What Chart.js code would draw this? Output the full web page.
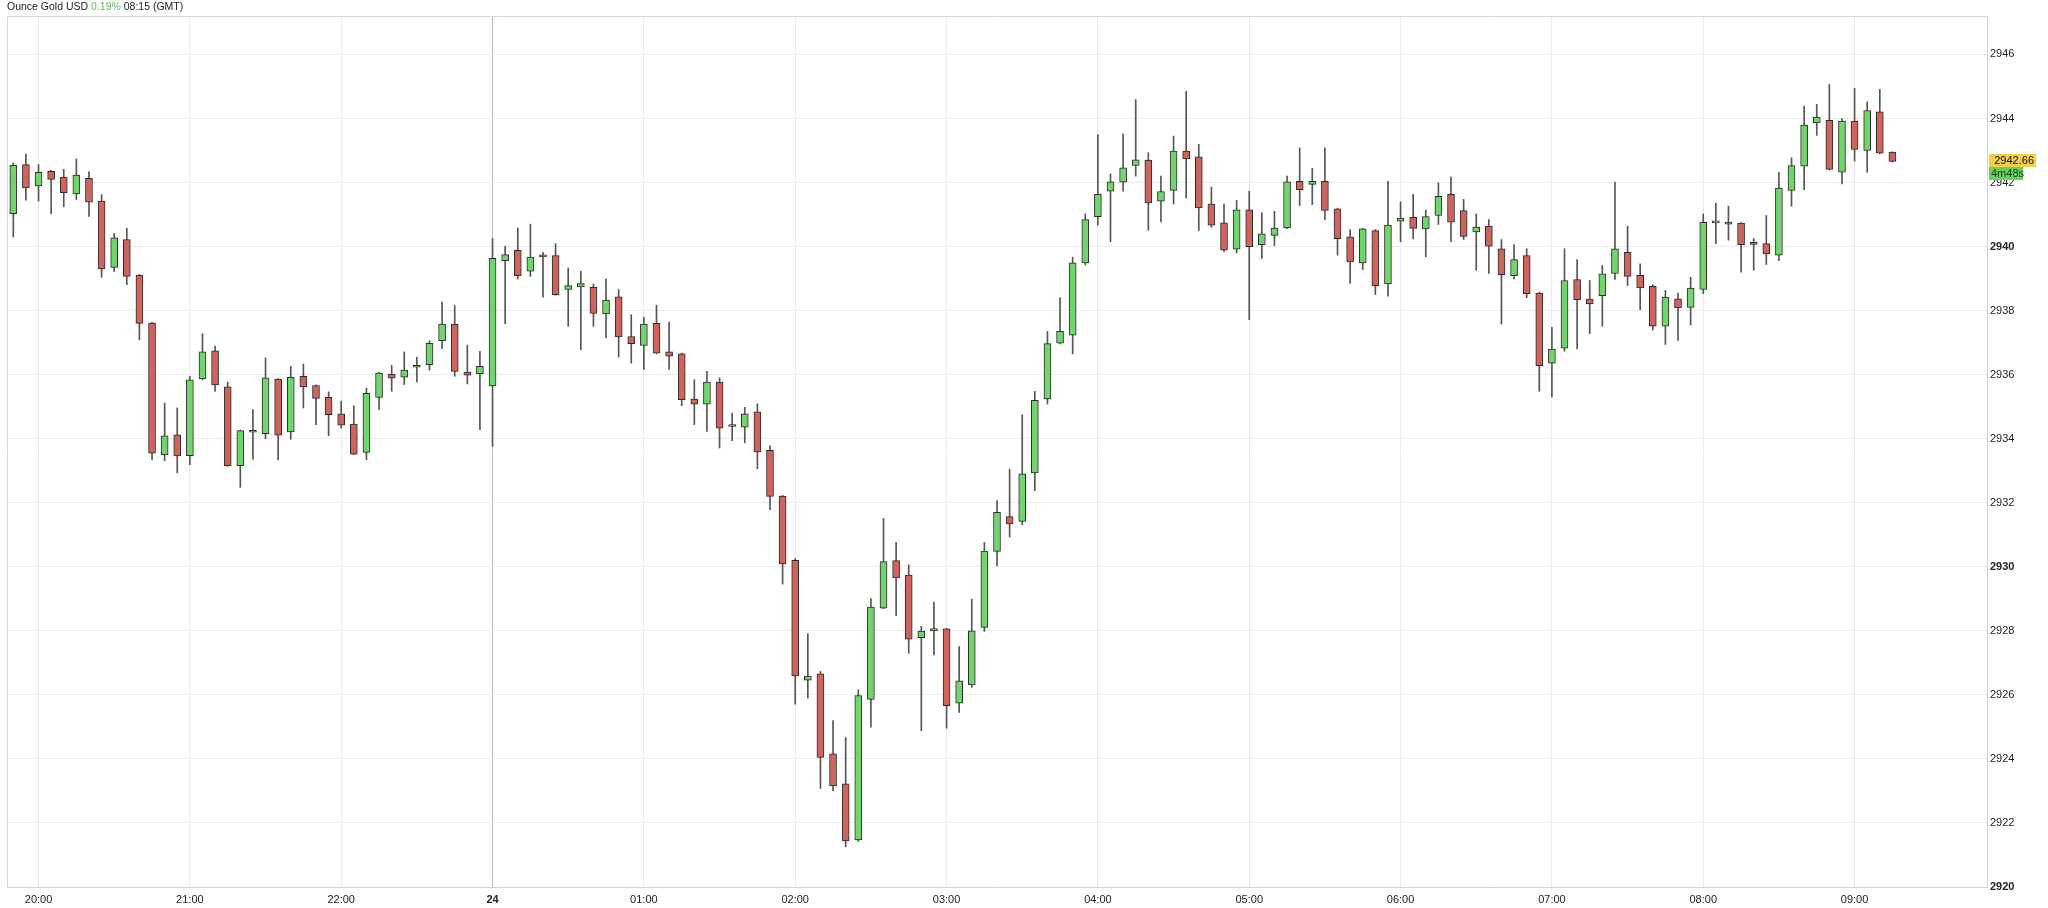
<!DOCTYPE html>
<html>
<head>
<meta charset="utf-8">
<script src="https://cdn.jsdelivr.net/npm/chart.js@4/dist/chart.umd.min.js"></script>
<style>
  html, body { margin: 0; padding: 0; background: #fff; }
  #wrap { position: relative; width: 2048px; height: 908px; }
  #title { position: absolute; left: 7px; top: 0; font: 10.5px Helvetica, Arial, "Liberation Sans", sans-serif; color: #222; line-height: 12px; white-space: nowrap; }
  #title .chg { color: #5cb85c; }
</style>
</head>
<body>
<div id="wrap">
  <canvas id="gold"></canvas>
  <div id="title">Ounce Gold USD <span class="chg">0.19%</span> 08:15 (GMT)</div>
</div>
<script>
// 5 minute candles, 23:00-23:55 is the daily break (no bars)
const times = [
  '19:50','19:55',
  '20:00','20:05','20:10','20:15','20:20','20:25','20:30','20:35','20:40','20:45','20:50','20:55',
  '21:00','21:05','21:10','21:15','21:20','21:25','21:30','21:35','21:40','21:45','21:50','21:55',
  '22:00','22:05','22:10','22:15','22:20','22:25','22:30','22:35','22:40','22:45','22:50','22:55',
  '00:00','00:05','00:10','00:15','00:20','00:25','00:30','00:35','00:40','00:45','00:50','00:55',
  '01:00','01:05','01:10','01:15','01:20','01:25','01:30','01:35','01:40','01:45','01:50','01:55',
  '02:00','02:05','02:10','02:15','02:20','02:25','02:30','02:35','02:40','02:45','02:50','02:55',
  '03:00','03:05','03:10','03:15','03:20','03:25','03:30','03:35','03:40','03:45','03:50','03:55',
  '04:00','04:05','04:10','04:15','04:20','04:25','04:30','04:35','04:40','04:45','04:50','04:55',
  '05:00','05:05','05:10','05:15','05:20','05:25','05:30','05:35','05:40','05:45','05:50','05:55',
  '06:00','06:05','06:10','06:15','06:20','06:25','06:30','06:35','06:40','06:45','06:50','06:55',
  '07:00','07:05','07:10','07:15','07:20','07:25','07:30','07:35','07:40','07:45','07:50','07:55',
  '08:00','08:05','08:10','08:15','08:20','08:25','08:30','08:35','08:40','08:45','08:50','08:55',
  '09:00','09:05','09:10','09:15','09:20','09:25','09:30','09:35','09:40','09:45','09:50'
];

const open = [
  2941.03,2942.56,2941.89,2942.35,2942.17,2941.64,2942.13,2941.42,2939.35,2940.22,
  2939.11,2937.61,2933.49,2934.12,2933.47,2935.87,2936.74,2935.62,2933.16,2934.20,
  2934.16,2935.86,2934.21,2935.95,2935.66,2935.29,2934.78,2934.46,2933.57,2935.29,
  2936.02,2935.92,2936.23,2936.31,2937.06,2937.58,2936.08,2936.03,2935.65,2939.56,
  2939.88,2939.23,2939.74,2939.72,2938.66,2938.74,2938.73,2937.90,2938.43,2937.19,
  2936.91,2937.60,2936.71,2936.65,2935.24,2935.08,2935.77,2934.38,2934.36,2934.84,
  2933.64,2932.21,2930.20,2926.46,2926.66,2924.16,2923.22,2921.47,2925.86,2928.71,
  2930.19,2929.74,2927.79,2928.00,2928.06,2925.74,2926.31,2928.11,2930.48,2931.57,
  2931.42,2932.93,2935.24,2936.98,2937.23,2939.49,2940.93,2941.73,2942.01,2942.53,
  2942.70,2941.42,2941.75,2942.98,2942.80,2941.33,2940.74,2939.92,2941.15,2940.06,
  2940.35,2940.58,2942.04,2941.94,2942.04,2941.18,2940.30,2939.49,2940.50,2938.83,
  2940.79,2940.91,2940.55,2940.97,2941.63,2941.12,2940.46,2940.64,2939.93,2939.09,
  2939.72,2938.55,2936.36,2936.83,2938.97,2938.36,2938.47,2939.16,2939.82,2939.10,
  2938.76,2937.51,2938.37,2938.10,2938.66,2940.74,2940.72,2940.73,2940.09,2940.09,
  2939.73,2941.75,2942.51,2943.86,2943.94,2942.32,2943.92,2943.00,2944.21,2942.95
];
const high = [
  2942.61,2942.89,2942.56,2942.38,2942.41,2942.74,2942.34,2941.62,2940.41,2940.57,
  2939.13,2937.63,2935.11,2934.96,2935.95,2937.28,2936.89,2935.77,2934.27,2934.91,
  2936.52,2935.88,2936.26,2936.33,2935.68,2935.46,2935.17,2935.03,2935.58,2936.07,
  2936.29,2936.71,2936.55,2937.06,2938.27,2938.16,2936.92,2936.73,2940.25,2940.01,
  2940.58,2940.70,2939.82,2940.09,2939.33,2939.23,2938.83,2938.99,2938.66,2937.87,
  2937.79,2938.17,2937.64,2936.67,2935.84,2936.10,2935.90,2934.80,2934.98,2935.09,
  2933.78,2932.23,2930.26,2927.91,2926.73,2925.20,2924.67,2926.16,2929.01,2931.51,
  2930.76,2930.06,2928.14,2928.90,2928.08,2927.51,2928.99,2930.76,2932.07,2933.05,
  2934.75,2935.48,2937.35,2938.40,2939.67,2941.02,2943.50,2942.27,2943.52,2944.59,
  2942.93,2942.20,2943.45,2944.85,2943.19,2941.86,2941.33,2941.44,2941.73,2941.05,
  2941.10,2942.20,2943.08,2942.44,2943.08,2941.20,2940.53,2940.57,2940.53,2942.04,
  2941.40,2941.63,2941.14,2941.99,2942.17,2941.47,2941.02,2940.84,2940.22,2940.06,
  2939.93,2938.57,2937.48,2939.93,2939.59,2938.94,2939.41,2942.01,2940.64,2939.46,
  2938.81,2938.63,2938.55,2939.04,2941.02,2941.36,2941.26,2940.75,2940.25,2940.97,
  2942.32,2942.77,2944.39,2944.44,2945.06,2944.00,2944.94,2944.52,2944.91,2942.96
];
const low = [
  2940.30,2941.45,2941.42,2941.03,2941.24,2941.47,2940.94,2939.04,2939.22,2938.81,
  2937.09,2933.34,2933.31,2932.93,2933.19,2935.84,2935.48,2933.14,2932.48,2933.36,
  2934.00,2933.34,2933.98,2934.96,2934.44,2934.09,2934.33,2933.50,2933.34,2934.91,
  2935.48,2935.69,2935.77,2936.14,2936.81,2935.95,2935.71,2934.28,2933.76,2937.59,
  2938.99,2939.07,2938.42,2938.48,2937.51,2936.78,2937.51,2937.15,2936.55,2936.36,
  2936.16,2936.65,2936.16,2935.03,2934.44,2934.23,2933.71,2933.94,2933.87,2933.06,
  2931.78,2929.46,2925.71,2925.90,2923.08,2923.01,2921.26,2921.42,2924.99,2928.69,
  2928.47,2927.30,2924.88,2927.25,2924.96,2925.45,2926.24,2927.98,2930.03,2930.93,
  2931.31,2932.38,2935.08,2936.96,2936.65,2939.42,2940.67,2940.15,2941.73,2942.20,
  2940.51,2940.77,2941.33,2941.52,2940.50,2940.60,2939.83,2939.80,2937.72,2939.63,
  2940.03,2940.56,2941.28,2941.31,2940.84,2939.73,2938.86,2939.28,2938.50,2938.45,
  2940.15,2940.24,2939.68,2940.69,2940.15,2940.22,2939.26,2939.16,2937.58,2938.99,
  2938.40,2935.48,2935.30,2936.73,2936.80,2937.28,2937.51,2938.97,2938.78,2938.03,
  2937.39,2936.94,2937.07,2937.55,2938.53,2940.09,2940.20,2939.20,2939.26,2939.44,
  2939.56,2941.26,2941.78,2943.47,2942.39,2941.96,2942.67,2942.32,2942.90,2942.64
];
const close = [
  2942.54,2941.83,2942.32,2942.10,2941.68,2942.23,2941.39,2939.30,2940.27,2939.07,
  2937.60,2933.55,2934.09,2933.46,2935.84,2936.71,2935.68,2933.16,2934.25,2934.22,
  2935.90,2934.11,2935.92,2935.62,2935.26,2934.75,2934.42,2933.52,2935.42,2936.05,
  2935.89,2936.14,2936.25,2936.98,2937.58,2936.10,2935.98,2936.26,2939.63,2939.75,
  2939.09,2939.67,2939.68,2938.50,2938.78,2938.84,2937.91,2938.33,2937.18,2936.97,
  2937.58,2936.67,2936.58,2935.22,2935.08,2935.77,2934.33,2934.40,2934.78,2933.59,
  2932.20,2930.09,2926.59,2926.59,2924.05,2923.16,2921.44,2925.98,2928.74,2930.16,
  2929.65,2927.74,2927.99,2928.07,2925.66,2926.44,2928.00,2930.49,2931.70,2931.34,
  2932.90,2935.20,2936.97,2937.35,2939.49,2940.84,2941.63,2942.02,2942.46,2942.71,
  2941.36,2941.72,2942.98,2942.74,2941.21,2940.67,2939.89,2941.15,2940.00,2940.40,
  2940.58,2942.02,2941.78,2942.04,2941.13,2940.25,2939.52,2940.55,2938.78,2940.67,
  2940.89,2940.57,2940.94,2941.57,2940.76,2940.32,2940.61,2940.01,2939.12,2939.59,
  2938.53,2936.28,2936.80,2938.94,2938.34,2938.21,2939.15,2939.93,2939.07,2938.71,
  2937.51,2938.42,2938.08,2938.70,2940.76,2940.76,2940.70,2940.06,2940.07,2939.77,
  2941.83,2942.53,2943.79,2944.04,2942.41,2943.92,2943.03,2944.25,2942.92,2942.66
];

const hourTicks = ['20:00','21:00','22:00','00:00','01:00','02:00','03:00','04:00','05:00','06:00','07:00','08:00','09:00'];
const dayTick = '00:00';
const dayLabel = '24';
const countdown = '4m48s';

const UP = '#72d46c', DOWN = '#cf635e', EDGE = '#2b2b2b', WICK = '#555';

Chart.defaults.font.family = 'Helvetica, Arial, "Liberation Sans", sans-serif';
Chart.defaults.font.size = 11;
Chart.defaults.color = '#222';

const frame = {
  id: 'frame',
  beforeDatasetsDraw(chart) {
    const { ctx, chartArea: a } = chart;
    ctx.save();
    ctx.strokeStyle = '#d6d6dc';
    ctx.lineWidth = 1;
    ctx.beginPath();
    ctx.moveTo(Math.round(a.left) + 0.5, a.bottom);
    ctx.lineTo(Math.round(a.left) + 0.5, Math.round(a.top) + 0.5);
    ctx.lineTo(a.right, Math.round(a.top) + 0.5);
    ctx.stroke();
    ctx.restore();
  }
};

const lastPrice = {
  id: 'lastPrice',
  afterDraw(chart) {
    const { ctx, chartArea: a } = chart;
    const last = close[close.length - 1];
    const y = Math.round(chart.scales.y.getPixelForValue(last));
    const x = Math.round(a.right) + 2;
    ctx.save();
    ctx.fillStyle = '#f3cf4a';
    ctx.fillRect(x, y - 7, 47, 13);
    ctx.fillStyle = '#6bcf5f';
    ctx.fillRect(x, y + 6, 34, 13);
    ctx.font = '11px Helvetica, Arial, "Liberation Sans", sans-serif';
    ctx.textBaseline = 'middle';
    ctx.fillStyle = '#111';
    ctx.textAlign = 'right';
    ctx.fillText(last.toFixed(2), x + 45, y - 0.5);
    ctx.textAlign = 'left';
    ctx.fillStyle = '#143d14';
    ctx.fillText(countdown, x + 2, y + 12.5);
    ctx.restore();
  }
};

new Chart(document.getElementById('gold'), {
  type: 'bar',
  data: {
    labels: times,
    datasets: [
      {
        label: 'body',
        data: open.map((o, i) => [o, close[i]]),
        backgroundColor: (c) => (close[c.dataIndex] >= open[c.dataIndex] ? UP : DOWN),
        borderColor: EDGE,
        borderWidth: 1,
        borderSkipped: false,
        barThickness: 7,
        minBarLength: 2,
        grouped: false
      },
      {
        label: 'wick',
        data: low.map((l, i) => [l, high[i]]),
        backgroundColor: WICK,
        borderWidth: 0,
        barThickness: 1,
        grouped: false
      }
    ]
  },
  options: {
    responsive: true,
    maintainAspectRatio: false,
    animation: false,
    layout: { padding: { left: 7, top: 16, right: 0, bottom: 0 } },
    plugins: { legend: { display: false }, tooltip: { enabled: false } },
    scales: {
      x: {
        type: 'category',
        offset: true,
        grid: {
          offset: false,
          drawTicks: false,
          color: (c) => {
            const t = times[c.index];
            if (!hourTicks.includes(t)) return 'rgba(0,0,0,0)';
            return t === dayTick ? '#b9b9bd' : '#e9e9ee';
          }
        },
        border: { color: '#d0d0d6' },
        ticks: {
          autoSkip: false,
          maxRotation: 0,
          padding: 6,
          font: (c) => ({ weight: times[c.index] === dayTick ? 'bold' : 'normal' }),
          callback: function (v, i) {
            const t = times[i];
            if (!hourTicks.includes(t)) return '';
            return t === dayTick ? dayLabel : t;
          }
        },
        afterFit: (s) => { s.height = 21; }
      },
      y: {
        position: 'right',
        min: 2920,
        max: 2947.2,
        grid: { color: '#ebebf0', drawTicks: false },
        border: { color: '#d0d0d6' },
        ticks: {
          stepSize: 2,
          includeBounds: false,
          padding: 3,
          callback: (v) => String(v),
          font: (c) => ({ weight: c.tick && c.tick.value % 10 === 0 ? 'bold' : 'normal' })
        },
        afterFit: (s) => { s.width = 61; }
      }
    }
  },
  plugins: [frame, lastPrice]
});
</script>
</body>
</html>
